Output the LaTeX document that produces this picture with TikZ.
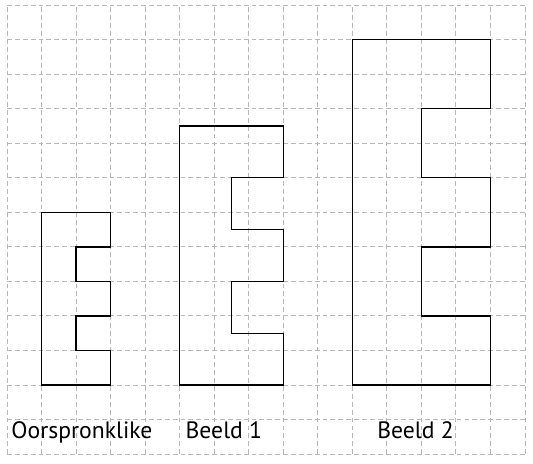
\documentclass[tikz,border=0pt]{standalone}
\usepackage{fontspec}
\setmainfont{PT Sans}
\usepackage{tikz}

\tikzset{
    gridline/.style={draw=black!28, line width=0.7pt, dash pattern=on 4pt off 2.5pt},
    figline/.style={draw=black, line width=1.1pt, line join=miter},
    caption/.style={anchor=base, inner sep=0pt, font=\fontsize{19.5}{22}\selectfont}
}

\begin{document}
\begin{tikzpicture}[x=1cm, y=1cm]
        \useasboundingbox (-0.203,-0.261) rectangle (15.233,13.149);

        % GRID
        % -----------------

        \draw[gridline] (0,0) grid (15,13);

        % FIGURES
        % -----------------

        % Original
        \draw[figline] (1,2) -- (3,2) -- (3,3) -- (2,3) -- (2,4) -- (3,4) -- (3,5)
            -- (2,5) -- (2,6) -- (3,6) -- (3,7) -- (1,7) -- cycle;

        % Image 1 (factor 1.5)
        \draw[figline] (5,2) -- (8,2) -- (8,3.5) -- (6.5,3.5) -- (6.5,5) -- (8,5) -- (8,6.5)
            -- (6.5,6.5) -- (6.5,8) -- (8,8) -- (8,9.5) -- (5,9.5) -- cycle;

        % Image 2 (factor 2)
        \draw[figline] (10,2) -- (14,2) -- (14,4) -- (12,4) -- (12,6) -- (14,6) -- (14,8)
            -- (12,8) -- (12,10) -- (14,10) -- (14,12) -- (10,12) -- cycle;

        % LABELS
        % -----------------

        \node[caption] (lbl_orig)   at (2.17,0.46)  {Oorspronklike};
        \node[caption] (lbl_beeld1) at (6.28,0.46)  {Beeld 1};
        \node[caption] (lbl_beeld2) at (11.83,0.46) {Beeld 2};

\end{tikzpicture}
\end{document}
